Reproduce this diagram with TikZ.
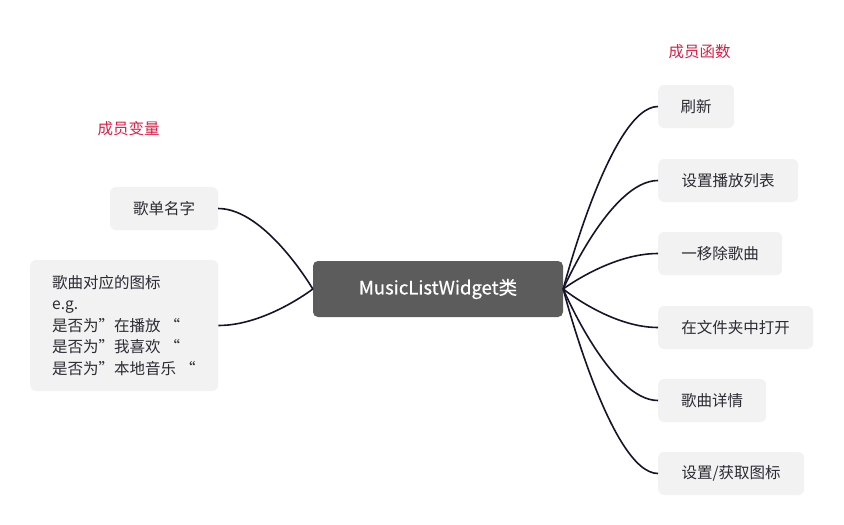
\documentclass[tikz,border=0pt]{standalone}
\usepackage{fontspec}
\setmainfont{Noto Sans CJK SC}
\newfontfamily\rootfont{Noto Sans CJK SC}[FakeBold=0.6]
\usetikzlibrary{calc}
\definecolor{boxfill}{HTML}{F2F2F2}
\definecolor{rootfill}{HTML}{5C5C5C}
\definecolor{linecol}{HTML}{16142B}
\definecolor{labred}{HTML}{DC1E46}
\definecolor{txt}{HTML}{2B2B33}
\tikzset{
  x=1pt, y=-1pt,
  leafbox/.style={fill=boxfill, draw=none, rounded corners=6pt, minimum height=43pt,
    inner xsep=0pt, inner ysep=0pt, text=txt, font=\fontsize{15.5}{21.5}\selectfont},
  rootbox/.style={fill=rootfill, draw=none, rounded corners=5pt, minimum width=250pt,
    minimum height=56pt, text=white, font=\rootfont\fontsize{18.5}{22}\selectfont},
  grouplabel/.style={text=labred, font=\fontsize{15.5}{20}\selectfont, inner sep=0pt},
  conn/.style={draw=linecol, line width=1.6pt},
}
\newcommand{\branch}[2]{%
  \draw[conn] (#1) .. controls (#1) and ($(#2)!0.5!(#1 |- #2)$) .. (#2);}
\begin{document}
\begin{tikzpicture}
\useasboundingbox (0,0) rectangle (844,525);
% root
\node[rootbox] (root) at (438,289) {MusicListWidget类};
% group labels
\node[grouplabel] (lblfun) at (699.5,52) {成员函数};
\node[grouplabel] (lblvar) at (128.5,129) {成员变量};
% left
\node[leafbox, minimum width=108pt] (lname) at (164,208.5) {歌单名字};
\node[leafbox, anchor=west, text width=144pt, inner xsep=22pt, align=left,
      minimum height=131pt] (licon) at (30,325.5)
  {歌曲对应的图标\\e.g.\\是否为”在播放\kern4pt“\\是否为”我喜欢\kern4pt“\\是否为”本地音乐\kern4pt“};
% right
\node[leafbox, anchor=west, minimum width=76pt]  (r1) at (658,106.5) {刷新};
\node[leafbox, anchor=west, minimum width=140pt] (r2) at (658,180.5) {设置播放列表};
\node[leafbox, anchor=west, minimum width=124pt] (r3) at (658,253.5) {一移除歌曲};
\node[leafbox, anchor=west, minimum width=155pt] (r4) at (658,327.5) {在文件夹中打开};
\node[leafbox, anchor=west, minimum width=108pt] (r5) at (658,400.5) {歌曲详情};
\node[leafbox, anchor=west, minimum width=146pt] (r6) at (658,473.5) {设置/获取图标};
% connectors
\branch{root.east}{r1.west}
\branch{root.east}{r2.west}
\branch{root.east}{r3.west}
\branch{root.east}{r4.west}
\branch{root.east}{r5.west}
\branch{root.east}{r6.west}
\branch{root.west}{lname.east}
\branch{root.west}{licon.east}
\end{tikzpicture}
\end{document}
